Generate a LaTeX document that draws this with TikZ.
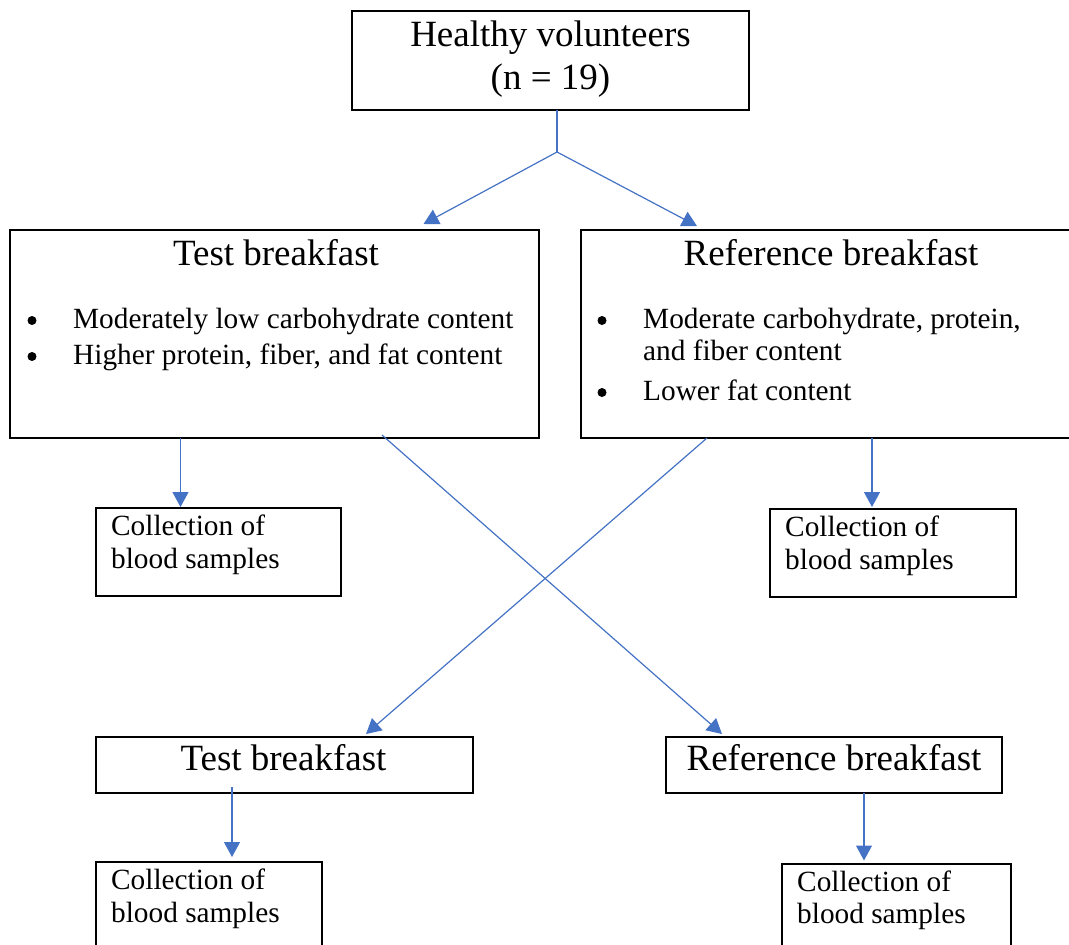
\documentclass[tikz,border=0pt]{standalone}
\usepackage{fontspec}
\setmainfont{Liberation Serif}
\usetikzlibrary{arrows.meta}

\definecolor{flowblue}{RGB}{68,114,196}

\tikzset{
  box/.style={draw, line width=2pt, anchor=north west, inner sep=0pt, outer sep=0pt},
  flow/.style={draw=flowblue, line width=1.2pt},
  arrowline/.style={flow, -{Triangle[width=16pt,length=15pt]}, color=flowblue},
  big/.style={font=\fontsize{37}{43}\selectfont, inner sep=0pt, anchor=base},
  small/.style={font=\fontsize{29.3}{33}\selectfont, inner sep=0pt, anchor=base west},
  dot/.style={circle, fill, minimum size=9pt, inner sep=0pt},
}

\begin{document}
\begin{tikzpicture}[x=1pt, y=-1pt]
    \path[use as bounding box, clip] (0,0) rectangle (1069,945);

    % boxes
    \node[box, minimum width=397pt, minimum height=99pt] (hv) at (352,11) {};
    \node[box, minimum width=529pt, minimum height=208pt] (testA) at (10,230) {};
    \node[box, minimum width=500pt, minimum height=208pt] (refA) at (581,230) {};
    \node[box, minimum width=245pt, minimum height=88pt] (collA) at (96,508) {};
    \node[box, minimum width=246pt, minimum height=88pt] (collB) at (770,509) {};
    \node[box, minimum width=377pt, minimum height=56pt] (testB) at (96,737) {};
    \node[box, minimum width=336pt, minimum height=56pt] (refB) at (666,737) {};
    \node[box, minimum width=226pt, minimum height=100pt] (collC) at (96,862) {};
    \node[box, minimum width=229pt, minimum height=100pt] (collD) at (782,864) {};

    % texts
    \node[big] (hvT1) at (550.5,46) {Healthy volunteers};
    \node[big] (hvT2) at (550.5,89) {(n = 19)};

    \node[big] (testAT) at (276,265) {Test breakfast};
    \node[dot] (testAD1) at (32,320.5) {};
    \node[small] (testAL1) at (73,328) {Moderately low carbohydrate content};
    \node[dot] (testAD2) at (32,356.5) {};
    \node[small] (testAL2) at (73,364) {Higher protein, fiber, and fat content};

    \node[big] (refAT) at (831,265) {Reference breakfast};
    \node[dot] (refAD1) at (602,320.5) {};
    \node[small] (refAL1) at (643,328) {Moderate carbohydrate, protein,};
    \node[small] (refAL2) at (643,360) {and fiber content};
    \node[dot] (refAD2) at (602,392.5) {};
    \node[small] (refAL3) at (643,400) {Lower fat content};

    \node[small] (collAT1) at (111,535) {Collection of};
    \node[small] (collAT2) at (111,568) {blood samples};
    \node[small] (collBT1) at (785,536) {Collection of};
    \node[small] (collBT2) at (785,569) {blood samples};

    \node[big] (testBT) at (283.5,770) {Test breakfast};
    \node[big] (refBT) at (834,770) {Reference breakfast};

    \node[small] (collCT1) at (111,889) {Collection of};
    \node[small] (collCT2) at (111,922) {blood samples};
    \node[small] (collDT1) at (797,891) {Collection of};
    \node[small] (collDT2) at (797,923) {blood samples};

    % connectors
    \coordinate (split) at (557,152);
    \draw[flow] (hv.south -| split) -- (split);
    \draw[arrowline] (split) -- ([xshift=149pt, yshift=6pt]testA.north);
    \draw[arrowline] (split) -- ([xshift=-134pt, yshift=4pt]refA.north);

    \draw[arrowline] ([xshift=-94pt]testA.south) -- ([xshift=-38pt, yshift=1pt]collA.north);
    \draw[arrowline] ([xshift=41pt]refA.south) -- ([xshift=-21pt, yshift=2pt]collB.north);

    \draw[arrowline] ([xshift=107.5pt, yshift=3pt]testA.south) -- ([xshift=-112pt, yshift=3pt]refB.north);
    \draw[arrowline] ([xshift=-124pt]refA.south) -- ([xshift=81.5pt, yshift=3pt]testB.north);

    \draw[arrowline] ([xshift=-52.5pt, yshift=6pt]testB.south) -- ([xshift=23pt, yshift=5pt]collC.north);
    \draw[arrowline] ([xshift=30pt]refB.south) -- ([xshift=-32.5pt, yshift=3.5pt]collD.north);
\end{tikzpicture}
\end{document}
